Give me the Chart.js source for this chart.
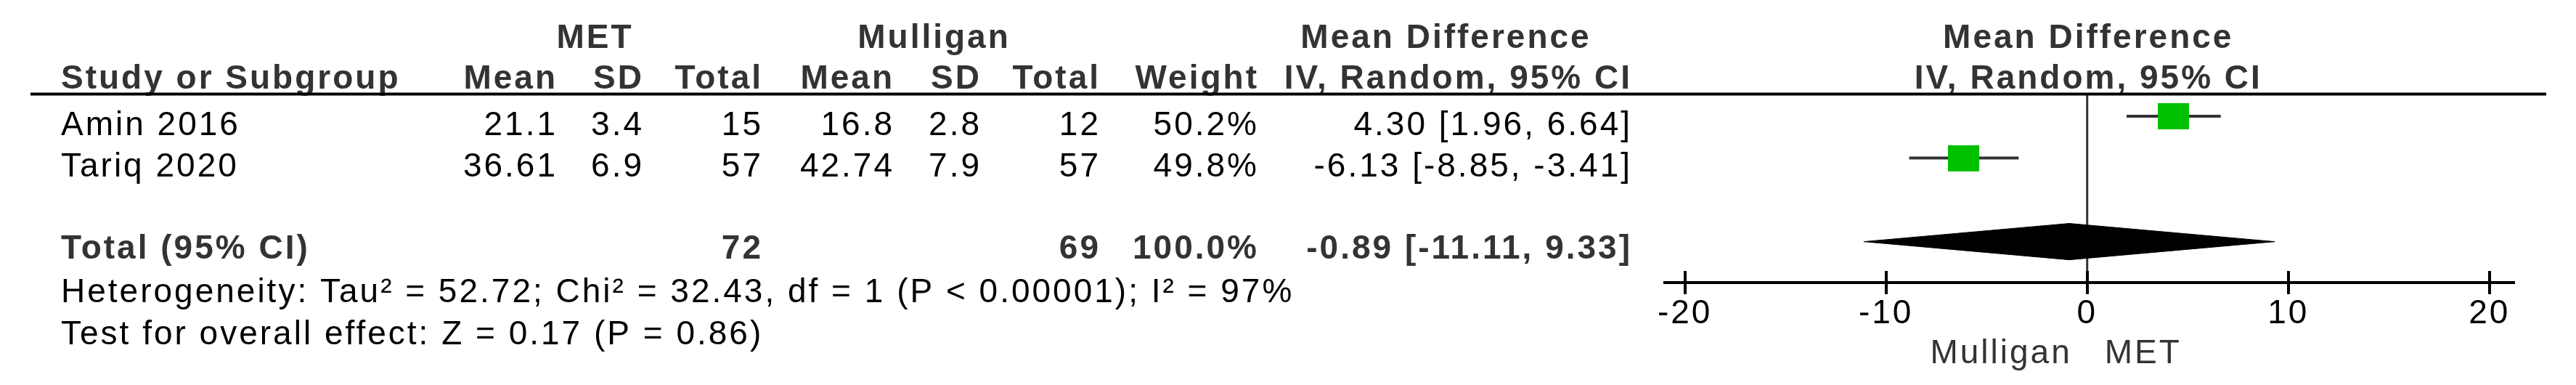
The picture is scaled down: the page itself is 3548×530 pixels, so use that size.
<!DOCTYPE html>
<html>
<head>
<meta charset="utf-8">
<script src="https://cdn.jsdelivr.net/npm/chart.js@4.4.0/dist/chart.umd.min.js"></script>
<style>
  html, body { margin: 0; padding: 0; background: #fff; }
  canvas { display: block; }
</style>
</head>
<body>
<canvas id="forest" width="3548" height="530"></canvas>
<script>
// study table
const studies = ["Amin 2016", "Tariq 2020"];
const metMean = [21.1, 36.61];
const metSD = [3.4, 6.9];
const metN = [15, 57];
const mulMean = [16.8, 42.74];
const mulSD = [2.8, 7.9];
const mulN = [12, 57];
const weights = [50.2, 49.8];
const md = [4.30, -6.13];
const ciLow = [1.96, -8.85];
const ciHigh = [6.64, -3.41];

// pooled result
const totalLabel = "Total (95% CI)";
const metTotal = 72;
const mulTotal = 69;
const totalWeight = 100.0;
const totalMD = -0.89;
const totalLow = -11.11;
const totalHigh = 9.33;
const heterogeneity = "Heterogeneity: Tau² = 52.72; Chi² = 32.43, df = 1 (P < 0.00001); I² = 97%";
const overallTest = "Test for overall effect: Z = 0.17 (P = 0.86)";

const xTicks = [-20, -10, 0, 10, 20];
const favourLeft = "Mulligan";
const favourRight = "MET";

const studyRows = [1, 2];
const totalRow = 4;

const FONT = '"Liberation Sans", Arial, sans-serif';
const SP = 3; // letter spacing
const ciText = (m, l, h) => `${m.toFixed(2)} [${l.toFixed(2)}, ${h.toFixed(2)}]`;

// green square used as point style
const square = document.createElement("canvas");
square.width = 43;
square.height = 36;
const sq = square.getContext("2d");
sq.fillStyle = "#00c000";
sq.fillRect(0, 0, 43, 36);

function txt(ctx, s, x, y, align, bold, color) {
    ctx.font = `${bold ? "bold " : ""}46px ${FONT}`;
    ctx.fillStyle = color;
    ctx.textAlign = align;
    ctx.textBaseline = "alphabetic";
    let dx = align === "right" ? SP : align === "center" ? SP / 2 : 0;
    ctx.fillText(s, x + dx, y);
}

const tablePlugin = {
    id: "table",
    beforeDraw(chart) {
        chart.ctx.letterSpacing = SP + "px";
    },
    afterDraw(chart) {
        const ctx = chart.ctx;
        const xs = chart.scales.x;
        const area = chart.chartArea;
        const zero = xs.getPixelForValue(0);
        ctx.save();
        ctx.letterSpacing = SP + "px";

        // header
        const hc = "#333";
        txt(ctx, "MET", 818, 66, "center", true, hc);
        txt(ctx, "Mulligan", 1285, 66, "center", true, hc);
        txt(ctx, "Mean Difference", 1990, 66, "center", true, hc);
        txt(ctx, "Mean Difference", zero, 66, "center", true, hc);
        txt(ctx, "Study or Subgroup", 84, 122, "left", true, hc);
        const cols = [765, 884, 1048, 1229, 1349, 1513, 1731, 2245];
        ["Mean", "SD", "Total", "Mean", "SD", "Total", "Weight", "IV, Random, 95% CI"]
            .forEach((h, i) => txt(ctx, h, cols[i], 122, "right", true, hc));
        txt(ctx, "IV, Random, 95% CI", zero, 122, "center", true, hc);

        // rule under header
        ctx.strokeStyle = "#000";
        ctx.lineWidth = 4;
        ctx.beginPath();
        ctx.moveTo(42, 129.5);
        ctx.lineTo(3507, 129.5);
        ctx.stroke();

        // study rows
        const base = [186, 243];
        studies.forEach((s, i) => {
            const y = base[i];
            txt(ctx, s, 84, y, "left", false, "#000");
            const vals = [metMean[i], metSD[i], metN[i], mulMean[i], mulSD[i], mulN[i],
                weights[i].toFixed(1) + "%", ciText(md[i], ciLow[i], ciHigh[i])];
            vals.forEach((v, j) => txt(ctx, String(v), cols[j], y, "right", false, "#000"));
        });

        // total row
        txt(ctx, totalLabel, 84, 356, "left", true, hc);
        txt(ctx, String(metTotal), cols[2], 356, "right", true, hc);
        txt(ctx, String(mulTotal), cols[5], 356, "right", true, hc);
        txt(ctx, totalWeight.toFixed(1) + "%", cols[6], 356, "right", true, hc);
        txt(ctx, ciText(totalMD, totalLow, totalHigh), cols[7], 356, "right", true, hc);
        txt(ctx, heterogeneity, 84, 416, "left", false, "#000");
        txt(ctx, overallTest, 84, 474, "left", false, "#000");

        // upper half of the axis ticks
        ctx.strokeStyle = "#000";
        ctx.lineWidth = 4;
        xs.ticks.forEach(t => {
            const px = Math.round(xs.getPixelForValue(t.value));
            ctx.beginPath();
            ctx.moveTo(px, area.bottom);
            ctx.lineTo(px, area.bottom - 16);
            ctx.stroke();
        });

        // favours labels
        txt(ctx, favourLeft, zero - 24, 500, "right", false, "#333");
        txt(ctx, favourRight, zero + 24, 500, "left", false, "#333");
        ctx.restore();
    }
};

const diamondHalf = 0.435;
const datasets = [
    {
        label: "squares",
        data: md.map((m, i) => ({ x: m, y: studyRows[i] })),
        pointStyle: square,
        pointRadius: 10,
        showLine: false,
        order: 0
    },
    ...studies.map((s, i) => ({
        label: s,
        data: [{ x: ciLow[i], y: studyRows[i] }, { x: ciHigh[i], y: studyRows[i] }],
        showLine: true,
        borderColor: "#333",
        borderWidth: 4,
        pointRadius: 0,
        order: 1
    })),
    {
        label: "pooled",
        data: [
            { x: totalLow, y: totalRow },
            { x: totalMD, y: totalRow - diamondHalf },
            { x: totalHigh, y: totalRow },
            { x: totalMD, y: totalRow + diamondHalf },
            { x: totalLow, y: totalRow }
        ],
        showLine: true,
        fill: "shape",
        backgroundColor: "#000",
        borderColor: "#000",
        borderWidth: 1,
        pointRadius: 0,
        order: 2
    },
    {
        label: "zero",
        data: [{ x: 0, y: 0.46 }, { x: 0, y: 4.98 }],
        showLine: true,
        borderColor: "#333",
        borderWidth: 3,
        pointRadius: 0,
        order: 3
    }
];

Chart.defaults.font.family = FONT;

new Chart(document.getElementById("forest").getContext("2d"), {
    type: "scatter",
    data: { datasets },
    options: {
        responsive: false,
        animation: false,
        devicePixelRatio: 1,
        layout: { padding: { left: 2293, right: 86, top: 129, bottom: 81 } },
        plugins: { legend: { display: false }, tooltip: { enabled: false } },
        scales: {
            x: {
                type: "linear",
                min: -21,
                max: 21.2,
                afterFit: s => { s.height = 60; },
                afterBuildTicks: s => { s.ticks = xTicks.map(v => ({ value: v })); },
                grid: { drawOnChartArea: false, drawTicks: true, tickLength: 16, color: "#000", lineWidth: 4 },
                border: { display: true, color: "#000", width: 4 },
                ticks: { padding: 0, color: "#000", font: { size: 46 }, maxRotation: 0, autoSkip: false }
            },
            y: { type: "linear", display: false, min: 0.46, max: 4.98, reverse: true }
        }
    },
    plugins: [tablePlugin]
});
</script>
</body>
</html>
